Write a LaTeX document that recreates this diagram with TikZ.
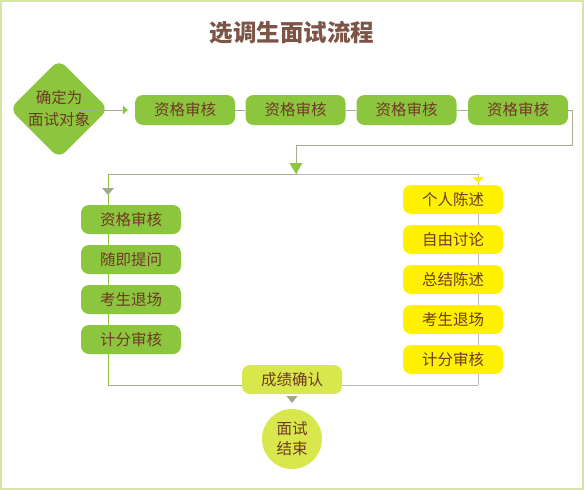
\documentclass[tikz,border=0pt]{standalone}
\usepackage{fontspec}
\newfontfamily\cjk{Noto Sans CJK SC}
\usetikzlibrary{shapes.geometric,arrows.meta}
\definecolor{boxgreen}{HTML}{8CC63F}
\definecolor{boxyellow}{HTML}{FFF100}
\definecolor{lightgreen}{HTML}{D8E74B}
\definecolor{arrowgray}{HTML}{A3A88A}
\definecolor{lineolive}{HTML}{A9AD90}
\definecolor{linegray}{HTML}{BDB6BD}
\definecolor{txt}{HTML}{6F3A24}
\definecolor{titlec}{HTML}{7D5546}
\definecolor{framec}{HTML}{D6E6A4}
\begin{document}
\begin{tikzpicture}[x=1pt,y=-1pt,
  boxbase/.style={rounded corners=8pt, minimum width=100pt, minimum height=29pt, inner sep=0pt,
    font=\cjk\fontsize{15.5}{15.5}\selectfont, text=txt},
  gbox/.style={boxbase, fill=boxgreen},
  ybox/.style={boxbase, fill=boxyellow},
  lbox/.style={boxbase, fill=lightgreen},
  oline/.style={draw=lineolive, line width=1pt},
  pline/.style={draw=linegray, line width=1pt},
]
\useasboundingbox (0,0) rectangle (584,490);
\draw[framec, line width=2pt] (1,1) rectangle (583,489);

\node[font=\cjk\bfseries\fontsize{23.5}{23.5}\selectfont, text=titlec] (title) at (292,33) {选调生面试流程};

% diamond
\node[diamond, fill=boxgreen, minimum width=99pt, minimum height=99pt, inner sep=0pt,
  rounded corners=9pt, align=center, font=\cjk\fontsize{15.5}{22}\selectfont, text=txt] (dia) at (59,109) {确定为\\面试对象};

% top row
\node[gbox, minimum height=30pt] (r1) at (185,110) {资格审核};
\node[gbox, minimum height=30pt] (r2) at (295.5,110) {资格审核};
\node[gbox, minimum height=30pt] (r3) at (406.5,110) {资格审核};
\node[gbox, minimum height=30pt] (r4) at (518,110) {资格审核};

\coordinate (ds) at (73,110);
\draw[oline, -{Triangle[width=9pt,length=5pt,color=boxgreen]}, shorten >=7pt] (ds) -- (r1.west);
\draw[oline] (r1) -- (r2);
\draw[oline] (r2) -- (r3);
\draw[oline] (r3) -- (r4);

% split
\coordinate (jn) at (296,174);
\coordinate (tl) at (108,174);
\coordinate (tr) at (478,174);
\coordinate (bl) at (108,385);
\coordinate (br) at (478,385);
\draw[oline] (r4.east) -- ++(4,0) -- ++(0,35) -| (jn);
\draw[oline] (tl) -- (jn);
\draw[pline] (jn) -- (tr);
\draw[draw=boxgreen, line width=1pt] (tl) -- (bl);
\draw[pline] (tr) -- (br);
\fill[boxgreen] (289.5,163) -- (302.5,163) -- (296,174) -- cycle;

% left column
\node[gbox] (l1) at (131,219.5) {资格审核};
\node[gbox] (l2) at (131,259.5) {随即提问};
\node[gbox] (l3) at (131,299.5) {考生退场};
\node[gbox] (l4) at (131,339.5) {计分审核};
\fill[arrowgray] (102,188) -- (114,188) -- (108,195) -- cycle;

% right column
\node[ybox] (y1) at (453,199.5) {个人陈述};
\node[ybox] (y2) at (453,239.5) {自由讨论};
\node[ybox] (y3) at (453,279.5) {总结陈述};
\node[ybox] (y4) at (453,319.5) {考生退场};
\node[ybox] (y5) at (453,359.5) {计分审核};
\fill[boxyellow] (472.5,177) -- (484,177) -- (478.25,183) -- cycle;

% bottom
\node[lbox] (cj) at (292,379.5) {成绩确认};
\draw[oline] (bl) -- (bl -| cj.west);
\draw[pline] (br -| cj.east) -- (br);
\fill[arrowgray] (286.5,396) -- (297.5,396) -- (292,403) -- cycle;
\node[circle, fill=lightgreen, minimum size=60pt, inner sep=0pt, align=center,
  font=\cjk\fontsize{15.5}{20}\selectfont, text=txt] (end) at (292,439) {面试\\结束};
\end{tikzpicture}
\end{document}
